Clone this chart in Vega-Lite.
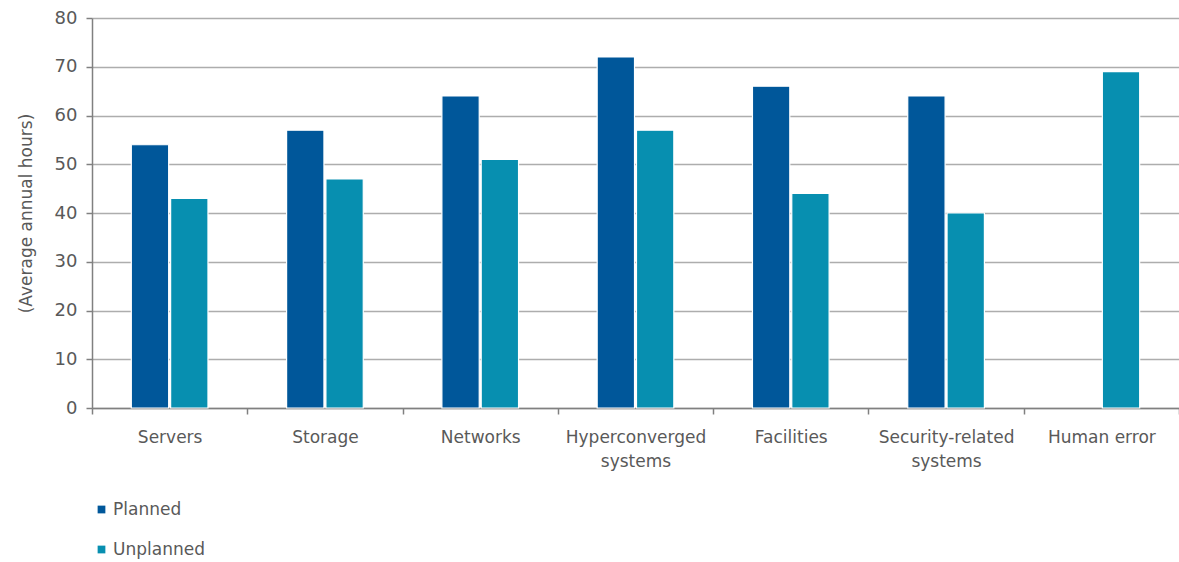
{
  "$schema": "https://vega.github.io/schema/vega-lite/v6.json",
  "width": 1087,
  "height": 390,
  "autosize": {"type": "none"},
  "padding": {"left": 92, "top": 18, "right": 0, "bottom": 154},
  "background": "white",
  "config": {
    "view": {"stroke": null},
    "font": "DejaVu Sans"
  },
  "data": {
    "values": [
      {"category": "Servers", "type": "Planned", "hours": 54},
      {"category": "Servers", "type": "Unplanned", "hours": 43},
      {"category": "Storage", "type": "Planned", "hours": 57},
      {"category": "Storage", "type": "Unplanned", "hours": 47},
      {"category": "Networks", "type": "Planned", "hours": 64},
      {"category": "Networks", "type": "Unplanned", "hours": 51},
      {"category": "Hyperconverged systems", "type": "Planned", "hours": 72},
      {"category": "Hyperconverged systems", "type": "Unplanned", "hours": 57},
      {"category": "Facilities", "type": "Planned", "hours": 66},
      {"category": "Facilities", "type": "Unplanned", "hours": 44},
      {"category": "Security-related systems", "type": "Planned", "hours": 64},
      {"category": "Security-related systems", "type": "Unplanned", "hours": 40},
      {"category": "Human error", "type": "Unplanned", "hours": 69}
    ]
  },
  "mark": {"type": "bar", "stroke": "white", "strokeWidth": 1.2},
  "encoding": {
    "x": {
      "field": "category",
      "type": "nominal",
      "sort": null,
      "scale": {"paddingInner": 0, "paddingOuter": 0},
      "axis": {
        "title": null,
        "labelAngle": 0,
        "labelFontSize": 17,
        "labelColor": "#595959",
        "labelPadding": 15,
        "labelLineHeight": 24,
        "tickBand": "extent",
        "tickSize": 6,
        "tickColor": "#808080",
        "domainColor": "#808080",
        "domainWidth": 1.5,
        "tickWidth": 1.5,
        "grid": false,
        "labelExpr": "datum.value == 'Hyperconverged systems' ? ['Hyperconverged', 'systems'] : datum.value == 'Security-related systems' ? ['Security-related', 'systems'] : datum.value"
      }
    },
    "xOffset": {
      "field": "type",
      "type": "nominal",
      "scale": {"domain": ["Planned", "Unplanned"], "paddingInner": 0.05, "paddingOuter": 1.12}
    },
    "y": {
      "field": "hours",
      "type": "quantitative",
      "scale": {"domain": [0, 80], "nice": false},
      "axis": {
        "title": "(Average annual hours)",
        "titleFontSize": 17,
        "titleFontWeight": "normal",
        "titleColor": "#595959",
        "titlePadding": 19,
        "values": [0, 10, 20, 30, 40, 50, 60, 70, 80],
        "labelFontSize": 18,
        "labelColor": "#595959",
        "labelPadding": 9,
        "tickSize": 6,
        "tickColor": "#808080",
        "tickWidth": 1.5,
        "domainColor": "#808080",
        "domainWidth": 1.5,
        "grid": true,
        "gridColor": "#adadad",
        "gridWidth": 1.6
      }
    },
    "color": {
      "field": "type",
      "type": "nominal",
      "scale": {"domain": ["Planned", "Unplanned"], "range": ["#00579a", "#078fb0"]},
      "legend": {
        "title": null,
        "orient": "none",
        "legendX": 1,
        "legendY": 483,
        "direction": "vertical",
        "symbolType": "square",
        "symbolSize": 60,
        "symbolStrokeWidth": 0,
        "labelFontSize": 17,
        "labelColor": "#595959",
        "labelOffset": 3,
        "rowPadding": 22
      }
    }
  }
}
